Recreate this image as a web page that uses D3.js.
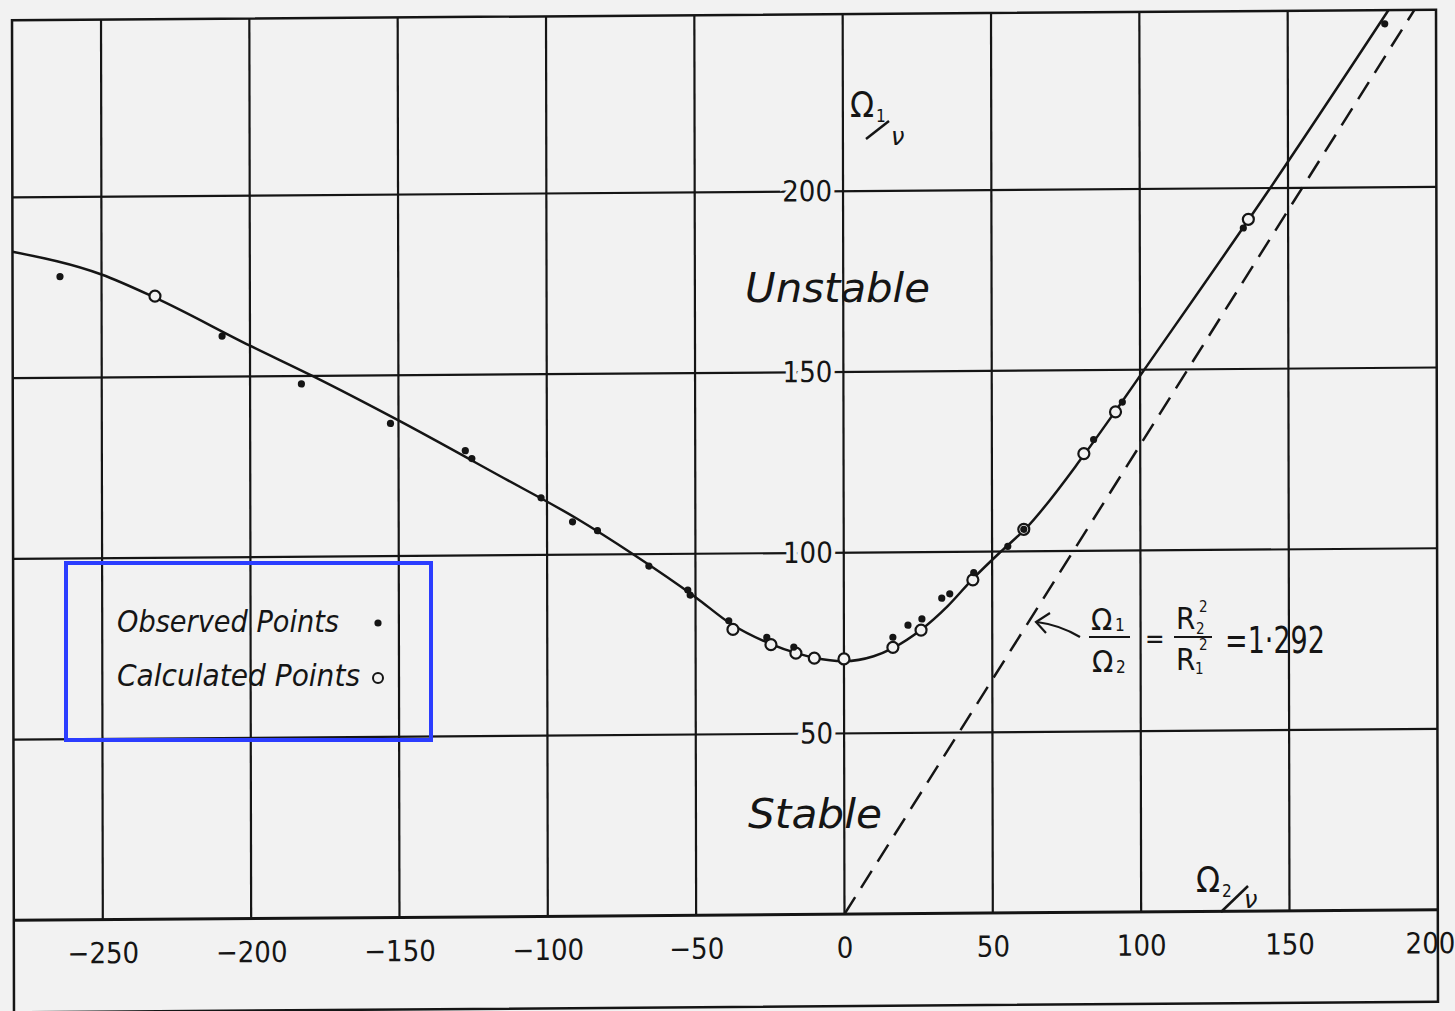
<!DOCTYPE html>
<html>
<head>
<meta charset="utf-8">
<script src="https://cdn.jsdelivr.net/npm/d3@7"></script>
<style>
  body { margin: 0; background: #f2f2f2; }
  svg { display: block; }
  .tick text { font-family: "DejaVu Sans Condensed", "DejaVu Sans", sans-serif; fill: #151515; }
  .lbl { font-family: "DejaVu Sans Condensed", "DejaVu Sans", sans-serif; fill: #151515; }
  .ital { font-family: "DejaVu Sans", sans-serif; font-style: italic; fill: #151515; }
</style>
</head>
<body>
<svg id="chart" width="1455" height="1011"></svg>
<script>
// Omega1/nu against Omega2/nu, stability boundary with observed and calculated points
const xTicks = [-250, -200, -150, -100, -50, 0, 50, 100, 150, 200]
const yTicks = [50, 100, 150, 200]

// solid boundary curve
const curveX = [-280, -250, -232, -200, -179, -150, -116, -90, -71, -50, -38, -25, -16, -10, 0, 10, 16.5, 26, 35, 43.5, 53, 61, 81, 92, 101, 144, 184]
const curveY = [185, 178.5, 172, 158.5, 150, 137.5, 122, 110, 100, 88, 80.5, 75, 72.3, 71, 70, 71.3, 73.5, 78.5, 85, 92.5, 100, 106, 126.5, 139, 149.5, 200, 249]

// observed points (dots)
const observedX = [-264, -209.4, -182.7, -152.7, -127.5, -125.3, -102, -91.4, -83, -65.7, -52.6, -51.8, -38.8, -26, -16.9, 16.5, 21.6, 26.3, 33, 35.7, 43.8, 55.3, 60.7, 84.3, 94, 134.9, 182.7]
const observedY = [178, 161.2, 147.8, 136.7, 129, 126.8, 115.8, 109.1, 106.6, 96.7, 90, 88.6, 81.4, 76.7, 74, 76.5, 79.8, 81.5, 87.2, 88.4, 94.2, 101.4, 106.1, 130.8, 141.1, 189, 245.2]

// calculated points (open circles)
const calculatedX = [-232, -37.4, -24.6, -16.2, -10, 0, 16.5, 26, 43.5, 60.7, 81, 91.7, 136.6]
const calculatedY = [172.4, 79, 74.7, 72.3, 70.9, 70.6, 73.7, 78.4, 92.2, 106.1, 126.9, 138.4, 191.4]

// dashed line Omega1/Omega2 = R2^2/R1^2
const ratio = 1.292

const ink = '#151515'
const paper = '#f2f2f2'
const W = 1455, H = 1011
const fLeft = 13, fRight = 1437, fTop = 15, fBottom = 1007

const x = d3.scaleLinear().domain([-280, 200]).range([fLeft, fRight])
const y = d3.scaleLinear().domain([0, 249]).range([915, fTop])

const svg = d3.select('#chart')
svg.append('rect').attr('width', W).attr('height', H).attr('fill', paper)

// the scanned page is a little skewed
const g = svg.append('g').attr('transform', 'matrix(1,-0.0075,0.002,1,-1.02,5.45)')

// horizontal grid
g.selectAll('.hgrid').data(yTicks).enter().append('line')
  .attr('x1', fLeft).attr('x2', fRight)
  .attr('y1', d => y(d)).attr('y2', d => y(d))
  .attr('stroke', ink).attr('stroke-width', 2.2)

// vertical grid
g.selectAll('.vgrid').data(xTicks.slice(0, -1)).enter().append('line')
  .attr('x1', d => x(d)).attr('x2', d => x(d))
  .attr('y1', fTop).attr('y2', y(0))
  .attr('stroke', ink).attr('stroke-width', 2.2)

// frame and zero line
g.append('rect')
  .attr('x', fLeft).attr('y', fTop)
  .attr('width', fRight - fLeft).attr('height', fBottom - fTop)
  .attr('fill', 'none').attr('stroke', ink).attr('stroke-width', 2.5)
g.append('line')
  .attr('x1', fLeft).attr('x2', fRight)
  .attr('y1', y(0)).attr('y2', y(0))
  .attr('stroke', ink).attr('stroke-width', 3)

// x tick labels
const fmt = d => d < 0 ? '\u2212' + Math.abs(d) : String(d)
const xAxis = g.append('g')
  .attr('transform', `translate(0,${y(0)})`)
  .call(d3.axisBottom(x).tickValues(xTicks).tickSize(0).tickPadding(23).tickFormat(fmt))
xAxis.select('.domain').remove()
xAxis.selectAll('text').attr('font-size', 29)
// last label sits on the page edge
xAxis.selectAll('.tick').filter(d => d === 200).select('text')
  .attr('text-anchor', 'end').attr('x', 17)

// y tick labels, sitting on the zero line with a gap in the grid
const yAxis = g.append('g')
  .attr('transform', `translate(${x(0)},0)`)
  .call(d3.axisLeft(y).tickValues(yTicks).tickSize(0).tickPadding(11))
yAxis.select('.domain').remove()
yAxis.selectAll('text')
  .attr('font-size', 29)
  .attr('stroke', paper).attr('stroke-width', 8)
  .attr('paint-order', 'stroke')

// dashed line
g.append('line')
  .attr('x1', x(0)).attr('y1', y(0))
  .attr('x2', x(249 / ratio)).attr('y2', y(249))
  .attr('stroke', ink).attr('stroke-width', 2.5)
  .attr('stroke-dasharray', '20,11')

// boundary curve
const pts = curveX.map((d, i) => [d, curveY[i]])
g.append('path')
  .datum(pts)
  .attr('fill', 'none').attr('stroke', ink).attr('stroke-width', 2.5)
  .attr('d', d3.line().x(d => x(d[0])).y(d => y(d[1])).curve(d3.curveMonotoneX))

// calculated points
g.selectAll('.calc').data(calculatedX).enter().append('circle')
  .attr('cx', d => x(d)).attr('cy', (d, i) => y(calculatedY[i]))
  .attr('r', 5.5)
  .attr('fill', paper).attr('stroke', ink).attr('stroke-width', 2.2)

// observed points
g.selectAll('.obs').data(observedX).enter().append('circle')
  .attr('cx', d => x(d)).attr('cy', (d, i) => y(observedY[i]))
  .attr('r', 3.6)
  .attr('fill', ink)

// annotations (page coordinates)
const ann = svg.append('g')

ann.append('text').attr('class', 'ital').attr('x', 745).attr('y', 302)
  .attr('font-size', 40).attr('textLength', 185).attr('lengthAdjust', 'spacingAndGlyphs')
  .text('Unstable')
ann.append('text').attr('class', 'ital').attr('x', 748).attr('y', 828)
  .attr('font-size', 40).attr('textLength', 134).attr('lengthAdjust', 'spacingAndGlyphs')
  .text('Stable')

// axis titles
function slashTitle (ox, oy, sub, subDx, s1, s2, nuX, nuY) {
  ann.append('text').attr('class', 'lbl').attr('x', ox).attr('y', oy).attr('font-size', 35).text('Ω')
  ann.append('text').attr('class', 'lbl').attr('x', ox + subDx).attr('y', oy + 5).attr('font-size', 17).text(sub)
  ann.append('line').attr('x1', s1[0]).attr('y1', s1[1]).attr('x2', s2[0]).attr('y2', s2[1])
    .attr('stroke', ink).attr('stroke-width', 2.5)
  ann.append('text').attr('class', 'ital').attr('x', nuX).attr('y', nuY).attr('font-size', 24).text('ν')
}
slashTitle(850, 117, '1', 26, [866, 139], [889, 121], 891, 145)
slashTitle(1196, 892, '2', 26, [1221, 912], [1248, 886], 1244, 908)

// formula Omega1/Omega2 = R2^2/R1^2 = 1.292
const f = ann.append('g').attr('class', 'lbl')
f.append('text').attr('x', 1091).attr('y', 630).attr('font-size', 31).text('Ω')
f.append('text').attr('x', 1115).attr('y', 631).attr('font-size', 17).text('1')
f.append('line').attr('x1', 1089).attr('x2', 1130).attr('y1', 637).attr('y2', 637).attr('stroke', ink).attr('stroke-width', 2.2)
f.append('text').attr('x', 1092).attr('y', 672).attr('font-size', 31).text('Ω')
f.append('text').attr('x', 1116).attr('y', 673).attr('font-size', 17).text('2')
f.append('text').attr('x', 1145).attr('y', 648).attr('font-size', 26).text('=')
f.append('text').attr('x', 1176).attr('y', 629).attr('font-size', 31).text('R')
f.append('text').attr('x', 1196).attr('y', 634).attr('font-size', 15).text('2')
f.append('text').attr('x', 1199).attr('y', 612).attr('font-size', 15).text('2')
f.append('line').attr('x1', 1174).attr('x2', 1212).attr('y1', 637).attr('y2', 637).attr('stroke', ink).attr('stroke-width', 2.2)
f.append('text').attr('x', 1176).attr('y', 670).attr('font-size', 31).text('R')
f.append('text').attr('x', 1195).attr('y', 674).attr('font-size', 15).text('1')
f.append('text').attr('x', 1199).attr('y', 650).attr('font-size', 15).text('2')
f.append('text').attr('x', 1225).attr('y', 653).attr('font-size', 38)
  .attr('textLength', 100).attr('lengthAdjust', 'spacingAndGlyphs').text('=1·292')

// arrow to the dashed line
ann.append('path').attr('d', 'M1080,637 Q1060,625 1037,622')
  .attr('fill', 'none').attr('stroke', ink).attr('stroke-width', 2.2)
ann.append('path').attr('d', 'M1050,613 L1036,622 L1046,633')
  .attr('fill', 'none').attr('stroke', ink).attr('stroke-width', 2.2)

// legend
ann.append('text').attr('class', 'ital').attr('x', 117).attr('y', 632)
  .attr('font-size', 31).attr('textLength', 222).attr('lengthAdjust', 'spacingAndGlyphs')
  .text('Observed Points')
ann.append('circle').attr('cx', 378).attr('cy', 623).attr('r', 3.6).attr('fill', ink)
ann.append('text').attr('class', 'ital').attr('x', 117).attr('y', 686)
  .attr('font-size', 31).attr('textLength', 243).attr('lengthAdjust', 'spacingAndGlyphs')
  .text('Calculated Points')
ann.append('circle').attr('cx', 378).attr('cy', 678).attr('r', 5)
  .attr('fill', 'none').attr('stroke', ink).attr('stroke-width', 2)
ann.append('rect').attr('x', 66).attr('y', 563).attr('width', 365).attr('height', 177)
  .attr('fill', 'none').attr('stroke', '#2b3dff').attr('stroke-width', 4)
</script>
</body>
</html>
